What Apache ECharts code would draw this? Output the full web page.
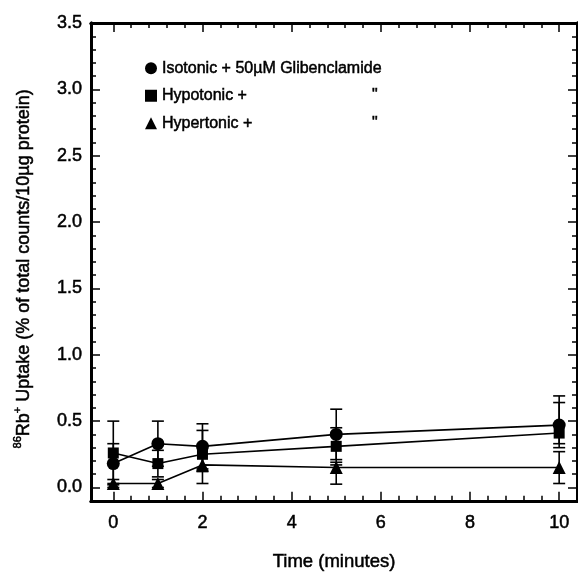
<!DOCTYPE html>
<html>
<head>
<meta charset="utf-8">
<script src="https://cdn.jsdelivr.net/npm/echarts@6/dist/echarts.min.js"></script>
<style>html,body{margin:0;padding:0;background:#fff}#c{width:578px;height:577px}</style>
</head>
<body>
<div id="c"></div>
<script>
// ---- data ----
var times = [0, 1, 2, 5, 10];
var seriesNames = ['Isotonic + 50\u00b5M Glibenclamide', 'Hypotonic +', 'Hypertonic +'];
var isoMean = [0.18, 0.33, 0.31, 0.40, 0.47];
var isoUp   = [0.15, 0.17, 0.17, 0.19, 0.22];
var isoDown = [0.15, 0.17, 0.17, 0.19, 0.14];
var hypoMean = [0.26, 0.18, 0.25, 0.31, 0.41];
var hypoUp   = [0.24, 0.10, 0.18, 0.14, 0.23];
var hypoDown = [0.24, 0.10, 0.13, 0.14, 0.11];
var hyperMean = [0.03, 0.03, 0.17, 0.15, 0.15];
var hyperUp   = [0.03, 0.03, 0.14, 0.04, 0.12];
var hyperDown = [0.03, 0.03, 0.14, 0.125, 0.12];
var xMajorTicks = [0, 2, 4, 6, 8, 10];
var xMinorTicks = [0.4, 0.8, 1.2, 1.6, 2.4, 2.8, 3.2, 3.6, 4.4, 4.8, 5.2, 5.6, 6.4, 6.8, 7.2, 7.6, 8.4, 8.8, 9.2, 9.6];
var yMajorTicks = [0, 0.5, 1.0, 1.5, 2.0, 2.5, 3.0, 3.5];
var yMinorTicks = [0.1, 0.2, 0.3, 0.4, 0.6, 0.7, 0.8, 0.9, 1.1, 1.2, 1.3, 1.4, 1.6, 1.7, 1.8, 1.9, 2.1, 2.2, 2.3, 2.4, 2.6, 2.7, 2.8, 2.9, 3.1, 3.2, 3.3, 3.4];

var FONT = '"Liberation Sans", Arial, sans-serif';
var BOLDEN = { textBorderColor: '#000', textBorderWidth: 0.5 };
var chart = echarts.init(document.getElementById('c'));

function pts(mean) { return times.map(function (t, i) { return [t, mean[i]]; }); }
function errs(mean, up, down) { return times.map(function (t, i) { return [t, mean[i], mean[i] - down[i], mean[i] + up[i]]; }); }

function errorSeries(mean, up, down) {
  return {
    type: 'custom', xAxisIndex: 0, yAxisIndex: 0, z: 1, silent: true,
    data: errs(mean, up, down),
    renderItem: function (params, api) {
      var x = api.value(0);
      var lo = api.coord([x, api.value(2)]);
      var hi = api.coord([x, api.value(3)]);
      var hw = 6;
      var st = { stroke: '#000', lineWidth: 1.6 };
      return { type: 'group', children: [
        { type: 'line', shape: { x1: lo[0], y1: lo[1], x2: hi[0], y2: hi[1] }, style: st },
        { type: 'line', shape: { x1: lo[0] - hw, y1: lo[1], x2: lo[0] + hw, y2: lo[1] }, style: st },
        { type: 'line', shape: { x1: hi[0] - hw, y1: hi[1], x2: hi[0] + hw, y2: hi[1] }, style: st }
      ] };
    }
  };
}
function lineSeries(name, mean, symbol, size) {
  return {
    name: name, type: 'line', xAxisIndex: 0, yAxisIndex: 0, z: 3,
    data: pts(mean), symbol: symbol, symbolSize: size,
    itemStyle: { color: '#000', borderColor: '#000', borderWidth: 0 },
    lineStyle: { color: '#000', width: 1.6 },
    emphasis: { disabled: true }
  };
}

var axisLine = { show: true, onZero: false, lineStyle: { color: '#000', width: 3 } };
function xAx(pos, ticks, len, labels, extra) {
  var a = {
    type: 'value', position: pos, min: -0.5, max: 10.4,
    axisLine: axisLine,
    axisTick: { show: true, inside: true, length: len, customValues: ticks, lineStyle: { color: '#000', width: 1.5 } },
    axisLabel: labels ? Object.assign({ show: true, customValues: ticks, color: '#000', fontFamily: FONT, fontSize: 18, margin: 13 }, BOLDEN) : { show: false },
    splitLine: { show: false }
  };
  return Object.assign(a, extra || {});
}
function yAx(pos, ticks, len, labels, extra) {
  var a = {
    type: 'value', position: pos, min: -0.1, max: 3.5,
    axisLine: axisLine,
    axisTick: { show: true, inside: true, length: len, customValues: ticks, lineStyle: { color: '#000', width: 1.5 } },
    axisLabel: labels ? Object.assign({ show: true, customValues: ticks, color: '#000', fontFamily: FONT, fontSize: 18, margin: 9,
      formatter: function (v) { return v.toFixed(1); } }, BOLDEN) : { show: false },
    splitLine: { show: false }
  };
  return Object.assign(a, extra || {});
}

var legendRich = {
  t: Object.assign({ fontFamily: FONT, fontSize: 16, color: '#000' }, BOLDEN),
  w: Object.assign({ fontFamily: FONT, fontSize: 16, color: '#000', width: 210 }, BOLDEN),
  d: Object.assign({ fontFamily: FONT, fontSize: 16, color: '#000' }, BOLDEN)
};

chart.setOption({
  animation: false,
  backgroundColor: '#fff',
  grid: { left: 91, right: 1, top: 23, bottom: 69, containLabel: false },
  legend: {
    orient: 'vertical', left: 140, top: 55, itemGap: 11, itemWidth: 12, itemHeight: 12, itemTextGap: 10,
    selectedMode: false,
    data: [
      { name: seriesNames[0], icon: 'circle' },
      { name: seriesNames[1], icon: 'rect' },
      { name: seriesNames[2], icon: 'triangle' }
    ],
    textStyle: { fontFamily: FONT, fontSize: 16, color: '#000', rich: legendRich },
    formatter: function (name) {
      if (name === seriesNames[0]) return '{t|' + name + '}';
      return '{w|' + name + '}{d|"}';
    }
  },
  xAxis: [
    xAx('bottom', xMajorTicks, 9, true, {
      name: 'Time (minutes)', nameLocation: 'middle', nameGap: 52,
      nameTextStyle: Object.assign({ fontFamily: FONT, fontSize: 18.5, color: '#000' }, BOLDEN)
    }),
    xAx('bottom', xMinorTicks, 5, false),
    xAx('top', xMajorTicks, 9, false),
    xAx('top', xMinorTicks, 5, false)
  ],
  yAxis: [
    yAx('left', yMajorTicks, 9, true, {
      name: '{s|86}{n|Rb}{s|+}{n| Uptake (% of total counts/10\u00b5g protein)}{e| }',
      nameLocation: 'middle', nameGap: 58,
      nameTextStyle: { fontFamily: FONT, fontSize: 18, color: '#000',
        rich: {
          n: Object.assign({ fontFamily: FONT, fontSize: 18, color: '#000', verticalAlign: 'bottom', lineHeight: 21 }, BOLDEN),
          s: Object.assign({ fontFamily: FONT, fontSize: 11, color: '#000', verticalAlign: 'top', lineHeight: 21 }, BOLDEN),
          e: { fontSize: 10, width: 14, lineHeight: 21 }
        } }
    }),
    yAx('left', yMinorTicks, 5, false),
    yAx('right', yMajorTicks, 9, false),
    yAx('right', yMinorTicks, 5, false)
  ],
  series: [
    errorSeries(isoMean, isoUp, isoDown),
    errorSeries(hypoMean, hypoUp, hypoDown),
    errorSeries(hyperMean, hyperUp, hyperDown),
    lineSeries(seriesNames[0], isoMean, 'circle', 13),
    lineSeries(seriesNames[1], hypoMean, 'rect', 11),
    lineSeries(seriesNames[2], hyperMean, 'triangle', 13)
  ]
});
</script>
</body>
</html>
